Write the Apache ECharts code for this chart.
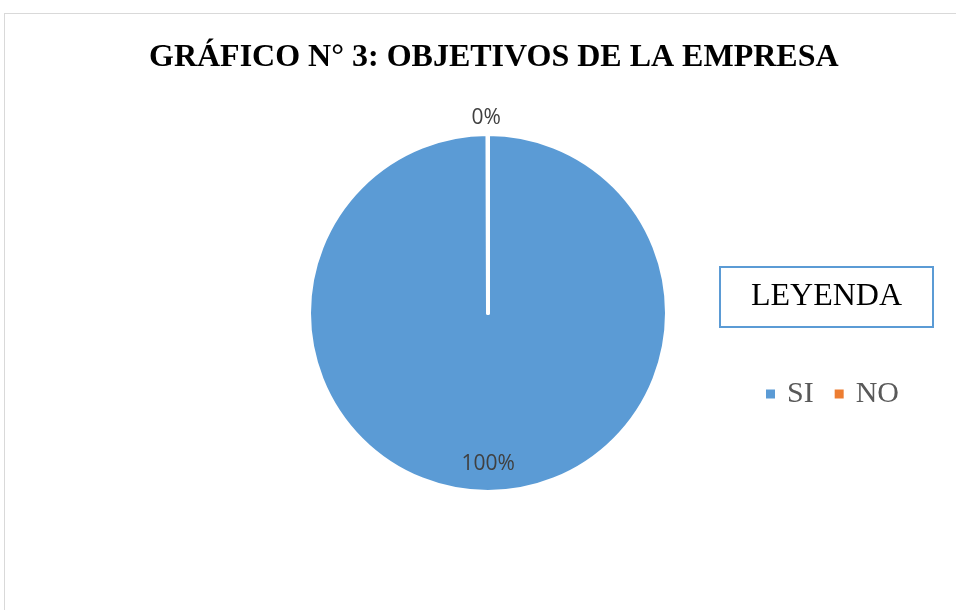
<!DOCTYPE html>
<html>
<head>
<meta charset="utf-8">
<script src="https://cdn.jsdelivr.net/npm/echarts@6/dist/echarts.min.js"></script>
<style>
    body { margin: 0; background: #fff; }
    #frame { position: absolute; left: 4px; top: 13px; width: 970px; height: 620px; border: 1px solid #d9d9d9; pointer-events: none; }
    #chart { position: absolute; left: 0; top: 0; width: 956px; height: 610px; }
</style>
</head>
<body>
<div id="chart"></div>
<div id="frame"></div>
<script>
// datos del gráfico
var categorias = ['SI', 'NO'];
var valores = [100, 0];
var colores = ['#5b9bd5', '#ed7d31'];

var chart = echarts.init(document.getElementById('chart'));

var datos = categorias.map(function (c, i) {
    return { name: c, value: valores[i], itemStyle: { color: colores[i] } };
});
// etiqueta del 100% va abajo, cerca del borde (linea vacia arriba para bajarla)
datos[0].label = {
    position: 'inside',
    formatter: '{s| }\n{d}%',
    rich: { s: { height: 118, lineHeight: 118 } }
};
datos[1].label = { position: 'outside', distanceToLabelLine: -13 };

chart.setOption({
    animation: false,
    title: [
        {
            text: 'GRÁFICO N° 3: OBJETIVOS DE LA EMPRESA',
            left: 144,
            top: 37,
            textStyle: { fontFamily: 'Liberation Serif', fontWeight: 'bold', fontSize: 32, color: '#000' }
        },
        {
            text: 'LEYENDA',
            left: 720,
            top: 267,
            padding: [14, 31, 14, 31],
            borderColor: '#5b9bd5',
            borderWidth: 2,
            textStyle: { fontFamily: 'Liberation Serif', fontWeight: 'normal', fontSize: 32, color: '#000' }
        }
    ],
    legend: {
        data: categorias,
        left: 759,
        top: 374,
        icon: 'rect',
        itemWidth: 11,
        itemHeight: 11,
        itemGap: 19,
        textStyle: { fontFamily: 'Liberation Serif', fontSize: 30, color: '#595959', padding: [0, 0, 0, 6] }
    },
    series: [
        {
            type: 'pie',
            center: [488, 313],
            radius: 179,
            startAngle: 90,
            minAngle: 0.1,
            avoidLabelOverlap: false,
            itemStyle: { borderColor: '#fff', borderWidth: 4 },
            label: {
                show: true,
                formatter: '{d}%',
                fontFamily: 'Open Sans',
                fontSize: 21,
                lineHeight: 22,
                color: '#404040'
            },
            labelLine: { show: false, length: 16, length2: 0 },
            data: datos
        }
    ]
});
</script>
</body>
</html>
